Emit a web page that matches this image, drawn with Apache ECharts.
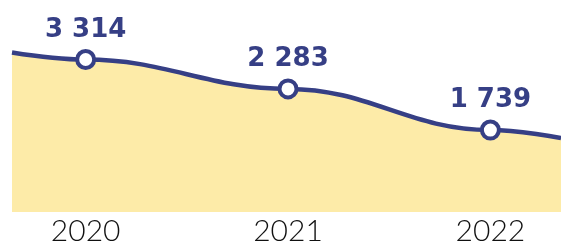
<!DOCTYPE html>
<html>
<head>
<meta charset="utf-8">
<script src="https://cdn.jsdelivr.net/npm/echarts@6/dist/echarts.min.js"></script>
<style>
html,body{margin:0;padding:0;background:#fff;}
#c{width:561px;height:246px;}
</style>
</head>
<body>
<div id="c"></div>
<script>
// Years and the printed values
const years = [2020, 2021, 2022];
const yearLabels = ['2020', '2021', '2022'];
const values = [3314, 2283, 1739];
// Visual height of the curve at each year (stylised, 0-100 scale)
const curveLevels = [77.4, 62.5, 41.6];
// Curve continues past the first and last year to the chart edges
const edgeYears = [2019.636, 2022.349];
const edgeLevels = [81, 37.5];

const fmt = v => String(v).replace(/\B(?=(\d{3})+(?!\d))/g, ' ');

const navy = '#363f85';
const data = [];
data.push({ value: [edgeYears[0], edgeLevels[0]], symbol: 'none', label: { show: false } });
years.forEach((y, i) => data.push({ value: [y, curveLevels[i]], shown: values[i] }));
data.push({ value: [edgeYears[1], edgeLevels[1]], symbol: 'none', label: { show: false } });

const chart = echarts.init(document.getElementById('c'));
chart.setOption({
  animation: false,
  grid: { left: 12, right: 0, top: 15, bottom: 31 },
  xAxis: {
    type: 'value',
    min: edgeYears[0],
    max: edgeYears[1],
    axisLine: { show: false },
    axisTick: { show: false },
    splitLine: { show: false },
    axisLabel: {
      customValues: years,
      formatter: v => yearLabels[years.indexOf(Math.round(v))] || '',
      fontFamily: 'Lato',
      fontWeight: 300,
      fontSize: 30,
      color: '#111',
      margin: 4
    }
  },
  yAxis: {
    type: 'value', min: 0, max: 100, show: false
  },
  series: [{
    type: 'line',
    data: data,
    smooth: 0.4,
    smoothMonotone: 'x',
    lineStyle: { color: navy, width: 4.5 },
    areaStyle: { color: '#fdeba8', opacity: 1 },
    symbol: 'circle',
    symbolSize: 17,
    itemStyle: { color: '#fff', borderColor: navy, borderWidth: 4 },
    label: {
      show: true,
      position: 'top',
      distance: 6,
      formatter: p => fmt(p.data.shown),
      fontFamily: 'DejaVu Sans',
      fontWeight: 'bold',
      fontSize: 26,
      color: navy
    }
  }]
});
</script>
</body>
</html>
